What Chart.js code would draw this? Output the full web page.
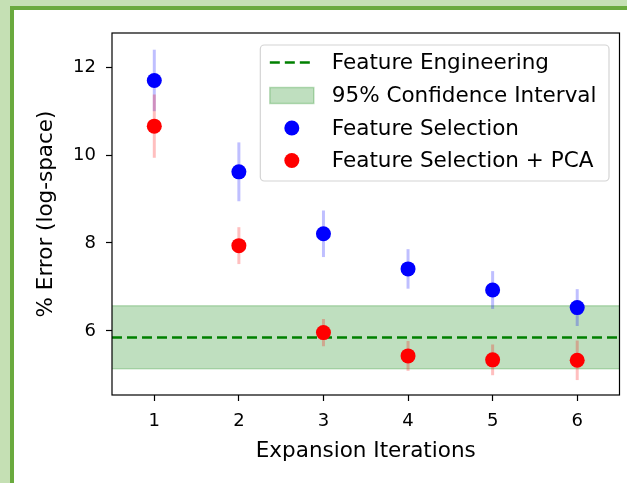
<!DOCTYPE html>
<html>
<head>
<meta charset="utf-8">
<script src="https://cdn.jsdelivr.net/npm/chart.js@4"></script>
<style>
    html, body { margin: 0; padding: 0; background: #c5e0b4; }
    canvas { display: block; }
</style>
</head>
<body>
<canvas id="errorChart" width="627" height="483"></canvas>
<script>
(function() {
    'use strict';

    // ===================================
    // Data
    // ===================================
    const iterations = [1, 2, 3, 4, 5, 6];
    const fsMean = [11.70, 9.62, 8.21, 7.41, 6.93, 6.53];
    const fsErr = [0.70, 0.67, 0.53, 0.45, 0.43, 0.42];
    const pcaMean = [10.66, 7.94, 5.96, 5.43, 5.34, 5.33];
    const pcaErr = [0.72, 0.42, 0.31, 0.34, 0.35, 0.45];
    const feMean = 5.85;
    const ciLow = 5.14;
    const ciHigh = 6.57;
    const xTicks = [1, 2, 3, 4, 5, 6];
    const yTicks = [6, 8, 10, 12];
    const xMin = 0.5, xMax = 6.5;
    const yMin = 4.54, yMax = 12.78;

    const FONT = 'DejaVu Sans';
    Chart.defaults.font.family = FONT;
    Chart.defaults.color = '#000';

    // Green frame around the white panel
    const framePlugin = {
        id: 'frame',
        beforeDraw(chart) {
            const ctx = chart.ctx;
            ctx.save();
            ctx.fillStyle = '#c5e0b4';
            ctx.fillRect(0, 0, chart.width, chart.height);
            ctx.fillStyle = '#6aaa3e';
            ctx.fillRect(10, 6, chart.width, chart.height);
            ctx.fillStyle = '#ffffff';
            ctx.fillRect(14, 10, chart.width, chart.height);
            ctx.restore();
        }
    };

    // Error bars, drawn right after the dashed line so the markers sit on top
    function drawBars(chart, means, errs, color) {
        const ctx = chart.ctx;
        const xs = chart.scales.x, ys = chart.scales.y;
        ctx.save();
        ctx.strokeStyle = color;
        ctx.lineWidth = 3;
        iterations.forEach((it, i) => {
            const px = xs.getPixelForValue(it);
            ctx.beginPath();
            ctx.moveTo(px, ys.getPixelForValue(means[i] - errs[i]));
            ctx.lineTo(px, ys.getPixelForValue(means[i] + errs[i]));
            ctx.stroke();
        });
        ctx.restore();
    }

    const errorBarPlugin = {
        id: 'errorBars',
        afterDatasetDraw(chart, args) {
            if (chart.data.datasets[args.index].label !== 'Feature Engineering') return;
            drawBars(chart, fsMean, fsErr, 'rgba(0, 0, 255, 0.25)');
            drawBars(chart, pcaMean, pcaErr, 'rgba(255, 0, 0, 0.25)');
        }
    };

    // Spines + matplotlib style legend
    const legendPlugin = {
        id: 'mplLegend',
        afterDraw(chart) {
            const ctx = chart.ctx;
            const a = chart.chartArea;
            ctx.save();
            ctx.strokeStyle = '#000';
            ctx.lineWidth = 1.2;
            ctx.strokeRect(a.left, a.top, a.right - a.left, a.bottom - a.top);

            const labels = ['Feature Engineering', '95% Confidence Interval', 'Feature Selection', 'Feature Selection + PCA'];
            ctx.font = '21.5px "' + FONT + '"';
            const textW = Math.max(...labels.map(t => ctx.measureText(t).width));
            const right = a.right - 11;
            const top = a.top + 11.5;
            const left = right - textW - 12 - 72;
            const h = 136;

            ctx.beginPath();
            ctx.roundRect(left + 0.5, top + 0.5, right - left, h, 4);
            ctx.fillStyle = 'rgba(255,255,255,0.8)';
            ctx.fill();
            ctx.strokeStyle = '#d4d4d4';
            ctx.lineWidth = 1.2;
            ctx.stroke();

            const rowY = [62, 95, 127.5, 160].map(v => v - 44 + top);
            const hx = left + 10, hw = 44;
            // dashed line
            ctx.beginPath();
            ctx.setLineDash([10, 5]);
            ctx.strokeStyle = '#008000';
            ctx.lineWidth = 2.5;
            ctx.moveTo(hx, rowY[0]);
            ctx.lineTo(hx + hw, rowY[0]);
            ctx.stroke();
            ctx.setLineDash([]);
            // patch
            ctx.fillStyle = 'rgba(0,128,0,0.25)';
            ctx.fillRect(hx, rowY[1] - 8, hw, 16);
            ctx.strokeStyle = 'rgba(0,128,0,0.25)';
            ctx.lineWidth = 1.5;
            ctx.strokeRect(hx, rowY[1] - 8, hw, 16);
            // markers
            [['#0000ff', rowY[2]], ['#ff0000', rowY[3]]].forEach(([c, y]) => {
                ctx.beginPath();
                ctx.arc(hx + hw / 2, y, 7.5, 0, Math.PI * 2);
                ctx.fillStyle = c;
                ctx.fill();
            });
            ctx.fillStyle = '#000';
            ctx.textBaseline = 'middle';
            ctx.textAlign = 'left';
            labels.forEach((t, i) => ctx.fillText(t, left + 72, rowY[i] + 1));
            ctx.restore();
        }
    };

    const ctx = document.getElementById('errorChart');
    new Chart(ctx, {
        type: 'scatter',
        data: {
            datasets: [
                {
                    label: 'Feature Selection + PCA',
                    data: iterations.map((x, i) => ({ x: x, y: pcaMean[i] })),
                    backgroundColor: '#ff0000',
                    borderWidth: 0,
                    pointRadius: 7.5,
                    order: 1
                },
                {
                    label: 'Feature Selection',
                    data: iterations.map((x, i) => ({ x: x, y: fsMean[i] })),
                    backgroundColor: '#0000ff',
                    borderWidth: 0,
                    pointRadius: 7.5,
                    order: 2
                },
                {
                    type: 'line',
                    label: 'Feature Engineering',
                    data: [{ x: xMin, y: feMean }, { x: xMax, y: feMean }],
                    borderColor: '#008000',
                    borderWidth: 2.5,
                    borderDash: [10, 5],
                    pointRadius: 0,
                    fill: false,
                    order: 3
                },
                {
                    type: 'line',
                    label: 'CI low',
                    data: [{ x: xMin, y: ciLow }, { x: xMax, y: ciLow }],
                    borderColor: 'rgba(0,128,0,0.22)',
                    borderWidth: 1.5,
                    pointRadius: 0,
                    fill: false,
                    order: 5
                },
                {
                    type: 'line',
                    label: '95% Confidence Interval',
                    data: [{ x: xMin, y: ciHigh }, { x: xMax, y: ciHigh }],
                    borderColor: 'rgba(0,128,0,0.22)',
                    borderWidth: 1.5,
                    backgroundColor: 'rgba(0,128,0,0.25)',
                    pointRadius: 0,
                    fill: 3,
                    order: 4
                }
            ]
        },
        options: {
            responsive: false,
            devicePixelRatio: 1,
            animation: false,
            layout: { padding: { top: 33, right: 7, left: 0, bottom: 0 } },
            plugins: {
                legend: { display: false },
                tooltip: { enabled: false }
            },
            scales: {
                x: {
                    type: 'linear',
                    min: xMin,
                    max: xMax,
                    afterBuildTicks: s => { s.ticks = xTicks.map(v => ({ value: v })); },
                    afterFit: s => { s.height = 88; },
                    grid: { drawOnChartArea: false, drawTicks: true, tickLength: 6, color: '#000', tickWidth: 1.2 },
                    border: { display: false },
                    ticks: { font: { size: 18 }, padding: 10, color: '#000' },
                    title: { display: true, text: 'Expansion Iterations', font: { size: 21.5 }, padding: { top: 0, bottom: 19 }, color: '#000' }
                },
                y: {
                    min: yMin,
                    max: yMax,
                    afterBuildTicks: s => { s.ticks = yTicks.map(v => ({ value: v })); },
                    afterFit: s => { s.width = 112; },
                    grid: { drawOnChartArea: false, drawTicks: true, tickLength: 6, color: '#000', tickWidth: 1.2 },
                    border: { display: false },
                    ticks: { font: { size: 18 }, padding: 10, color: '#000' },
                    title: { display: true, text: '% Error (log-space)', font: { size: 21.5 }, padding: { top: 34, bottom: 0 }, color: '#000' }
                }
            }
        },
        plugins: [framePlugin, errorBarPlugin, legendPlugin]
    });

    console.log('Chart ready');
})();
</script>
</body>
</html>
